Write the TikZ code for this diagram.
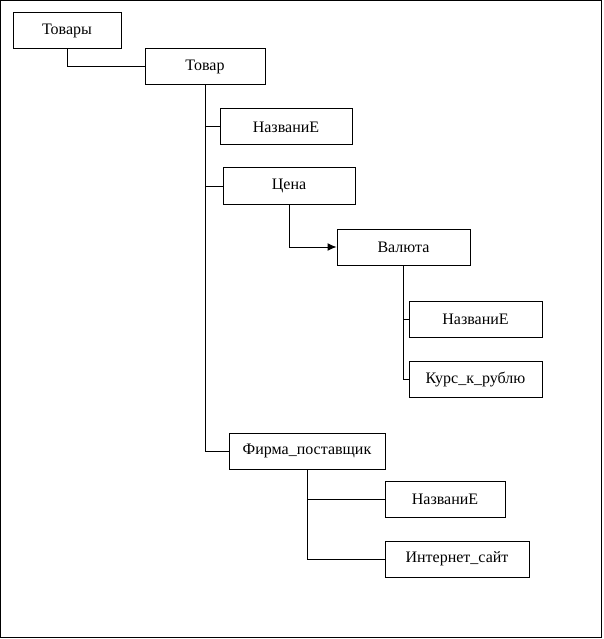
\documentclass[tikz,border=0pt]{standalone}
\usepackage{fontspec}
\setmainfont{Liberation Serif}
\usetikzlibrary{arrows.meta}

\begin{document}
\begin{tikzpicture}[x=1pt,y=-1pt]
 \tikzset{field/.style={
    draw, line width=1pt,
    minimum width=#1,
    minimum height=36pt,
    anchor=center,
    align=center,
    inner sep=0pt,
    font=\fontsize{16}{19}\selectfont
  },
  field/.default=132pt,
  link/.style={line width=1pt},
  ref/.style={line width=1pt, -{Latex[length=9pt,width=8pt]}}
}
\useasboundingbox (0,0) rectangle (603,639);
\draw[line width=1pt] (0.5,0.5) rectangle (601.5,637.5);

\node[field=108pt] (tovary) at (67,31) {Товары};
\node[field=120pt] (tovar) at (205,67) {Товар};
\node[field] (nazv1) at (286,127) {НазваниЕ};
\node[field] (cena) at (289,186) {Цена};
\node[field=133pt] (valuta) at (403.5,247) {Валюта};
\node[field=133pt] (nazv2) at (475.5,319) {НазваниЕ};
\node[field=133pt] (kurs) at (475.5,379) {Курс\_к\_рублю};
\node[field=156pt] (firma) at (307,451) {Фирма\_поставщик};
\node[field=120pt] (nazv3) at (445,499) {НазваниЕ};
\node[field=144pt] (inet) at (457,559) {Интернет\_сайт};

\draw[link] (tovary.south) |- (tovar.west);
\draw[link] (tovar.south) |- (firma.west);
\draw[link] (tovar.south) |- (nazv1.west);
\draw[link] (tovar.south) |- (cena.west);
\draw[ref] (cena.south) |- (valuta.west);
\draw[link] (valuta.south) |- (kurs.west);
\draw[link] (valuta.south) |- (nazv2.west);
\draw[link] (firma.south) |- (inet.west);
\draw[link] (firma.south) |- (nazv3.west);
\end{tikzpicture}
\end{document}
